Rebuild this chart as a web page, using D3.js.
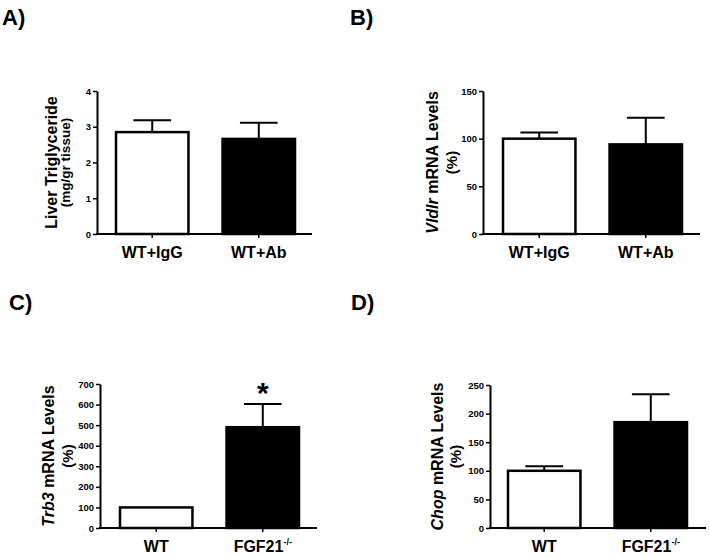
<!DOCTYPE html>
<html><head><meta charset="utf-8">
<script src="https://cdn.jsdelivr.net/npm/d3@7"></script>
<style>body{margin:0;background:#fff}svg{display:block}</style>
</head><body>
<svg id="c" width="710" height="558"></svg>
<script>
// ---- data ----
const panelLabels = ["A)", "B)", "C)", "D)"];
const categoriesAB = ["WT+IgG", "WT+Ab"];
const categoriesCD = ["WT", "FGF21"];
const superscriptCD = ["", "-/-"];
const meanA = [2.85, 2.66];
const errA = [0.33, 0.45];
const meanB = [100, 94];
const errB = [6.5, 28];
const meanC = [100, 490];
const errC = [0, 113];
const meanD = [100, 185];
const errD = [8, 49];
const ticksA = [0, 1, 2, 3, 4];
const ticksB = [0, 50, 100, 150];
const ticksC = [0, 100, 200, 300, 400, 500, 600, 700];
const ticksD = [0, 50, 100, 150, 200, 250];
const titleGeneB = "Vldlr", titleGeneC = "Trb3", titleGeneD = "Chop";
const titleRestA = "Liver Triglyceride", titleUnitA = "(mg/gr tissue)";
const titleRest = " mRNA Levels", titleUnit = "(%)";
const barFills = ["#ffffff", "#000000"];
const significance = [null, "*"]; // panel C

// ---- layout ----
const FONT = "Arial, 'Liberation Sans', sans-serif";
const panels = [
  {label: panelLabels[0], lx: 2, ly: 25, cats: categoriesAB, sup: null, mean: meanA, err: errA, ticks: ticksA,
   ax: 97, axEnd: 312, yTop: 91, yBot: 234, band: [116, 295], gene: null, rest: titleRestA, unit: titleUnitA,
   t1x: 51, t2x: 65, unitSize: 13.5, sig: null},
  {label: panelLabels[1], lx: 350, ly: 25, cats: categoriesAB, sup: null, mean: meanB, err: errB, ticks: ticksB,
   ax: 483, axEnd: 700, yTop: 91, yBot: 234, band: [503, 682], gene: titleGeneB, rest: titleRest, unit: titleUnit,
   t1x: 432, t2x: 451, unitSize: 15, sig: null},
  {label: panelLabels[2], lx: 9, ly: 310, cats: categoriesCD, sup: superscriptCD, mean: meanC, err: errC, ticks: ticksC,
   ax: 100, axEnd: 317, yTop: 384, yBot: 528, band: [120, 299], gene: titleGeneC, rest: titleRest, unit: titleUnit,
   t1x: 48, t2x: 67, unitSize: 15, sig: significance},
  {label: panelLabels[3], lx: 351, ly: 310, cats: categoriesCD, sup: superscriptCD, mean: meanD, err: errD, ticks: ticksD,
   ax: 490, axEnd: 706, yTop: 385, yBot: 528, band: [508, 687], gene: titleGeneD, rest: titleRest, unit: titleUnit,
   t1x: 437, t2x: 455, unitSize: 15, sig: null}
];

const svg = d3.select("#c");

panels.forEach(p => {
  const g = svg.append("g");
  // panel label
  g.append("text").attr("x", p.lx).attr("y", p.ly)
    .attr("font-family", FONT).attr("font-weight", "bold").attr("font-size", 22)
    .attr("fill", "#000").text(p.label);

  const y = d3.scaleLinear().domain([0, d3.max(p.ticks)]).range([p.yBot, p.yTop]);
  const x = d3.scaleBand().domain(p.cats).range(p.band).paddingInner(0.32).paddingOuter(0);

  // bars
  g.selectAll("rect.bar").data(p.cats).enter().append("rect")
    .attr("x", d => x(d)).attr("width", x.bandwidth())
    .attr("y", (d, i) => y(p.mean[i])).attr("height", (d, i) => p.yBot - y(p.mean[i]))
    .attr("fill", (d, i) => barFills[i]).attr("stroke", "#000").attr("stroke-width", 2.5);

  // error bars
  p.cats.forEach((c, i) => {
    if (!p.err[i]) return;
    const cx = x(c) + x.bandwidth() / 2;
    const top = y(p.mean[i] + p.err[i]);
    g.append("line").attr("x1", cx).attr("x2", cx).attr("y1", y(p.mean[i])).attr("y2", top)
      .attr("stroke", "#000").attr("stroke-width", 2);
    const cap = x.bandwidth() * 0.26;
    g.append("line").attr("x1", cx - cap).attr("x2", cx + cap).attr("y1", top).attr("y2", top)
      .attr("stroke", "#000").attr("stroke-width", 2);
    if (p.sig && p.sig[i]) {
      g.append("text").attr("x", cx).attr("y", top - 1).attr("text-anchor", "middle")
        .attr("font-family", FONT).attr("font-weight", "bold").attr("font-size", 30)
        .attr("fill", "#000").text(p.sig[i]);
    }
  });

  // y axis
  const ya = g.append("g").attr("transform", `translate(${p.ax},0)`)
    .call(d3.axisLeft(y).tickValues(p.ticks).tickFormat(d3.format("d"))
      .tickSize(4).tickSizeOuter(0).tickPadding(2));
  ya.select(".domain").attr("stroke", "#000").attr("stroke-width", 2);
  ya.selectAll(".tick line").attr("stroke", "#000").attr("stroke-width", 1.5);
  ya.selectAll(".tick text").attr("font-family", FONT).attr("font-weight", "bold")
    .attr("font-size", 9.5).attr("fill", "#000");

  // x axis
  const xa = g.append("g").attr("transform", `translate(0,${p.yBot})`)
    .call(d3.axisBottom(x).tickSize(4).tickSizeOuter(0).tickFormat(""));
  xa.select(".domain").remove();
  xa.selectAll(".tick line").attr("stroke", "#000").attr("stroke-width", 1.5);
  g.append("line").attr("x1", p.ax - 1).attr("x2", p.axEnd).attr("y1", p.yBot).attr("y2", p.yBot)
    .attr("stroke", "#000").attr("stroke-width", 2);

  // category labels
  p.cats.forEach((c, i) => {
    const t = g.append("text").attr("x", x(c) + x.bandwidth() / 2).attr("y", p.yBot + 24)
      .attr("text-anchor", "middle").attr("font-family", FONT).attr("font-weight", "bold")
      .attr("font-size", 16).attr("fill", "#000");
    t.append("tspan").text(c);
    if (p.sup && p.sup[i]) {
      t.append("tspan").attr("dy", -7).attr("font-size", 9).text(p.sup[i]);
    }
  });

  // y title
  const cy = (p.yTop + p.yBot) / 2;
  const t1 = g.append("text").attr("transform", `translate(${p.t1x},${cy}) rotate(-90)`)
    .attr("text-anchor", "middle").attr("dominant-baseline", "central")
    .attr("font-family", FONT).attr("font-weight", "bold").attr("font-size", 16).attr("fill", "#000");
  if (p.gene) t1.append("tspan").attr("font-style", "italic").text(p.gene);
  t1.append("tspan").text(p.rest);
  g.append("text").attr("transform", `translate(${p.t2x},${cy}) rotate(-90)`)
    .attr("text-anchor", "middle").attr("dominant-baseline", "central")
    .attr("font-family", FONT).attr("font-weight", "bold").attr("font-size", p.unitSize).attr("fill", "#000")
    .text(p.unit);
});
</script>
</body></html>
